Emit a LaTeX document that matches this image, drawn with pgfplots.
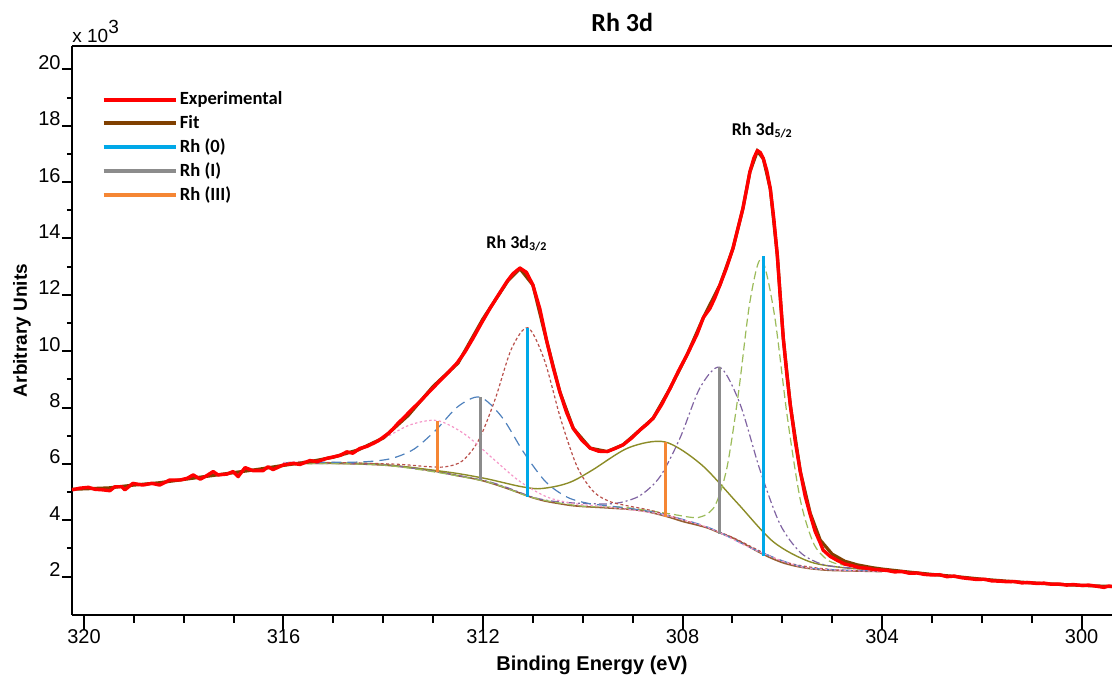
\documentclass[border=0pt]{standalone}
\usepackage{fontspec}
\setmainfont{Liberation Sans}
\newfontfamily\calfont{Carlito}
\usepackage{pgfplots}
\pgfplotsset{compat=1.18}
\usetikzlibrary{calc}
\definecolor{expred}{RGB}{255,0,0}
\definecolor{fitbrown}{RGB}{128,64,0}
\definecolor{bgbrown}{RGB}{150,95,50}
\definecolor{rhzero}{RGB}{0,168,232}
\definecolor{rhone}{RGB}{140,140,140}
\definecolor{rhthree}{RGB}{245,134,52}
\definecolor{cgreen}{RGB}{155,187,89}
\definecolor{cpurple}{RGB}{128,100,162}
\definecolor{colive}{RGB}{140,140,40}
\definecolor{cbrownred}{RGB}{185,80,75}
\definecolor{cblue}{RGB}{79,129,189}
\definecolor{cpink}{RGB}{245,150,200}
\begin{document}
\begin{tikzpicture}
\begin{axis}[
  name=ax,
  scale only axis,
  width=520pt, height=284.5pt,
  x dir=reverse,
  xmin=299.39, xmax=320.24,
  ymin=0.64, ymax=20.83,
  axis x line*=bottom, axis y line*=left,
  axis line style={-, line width=1pt, black},
  tick align=outside,
  xtick={300,304,...,320}, minor x tick num=3,
  ytick={2,4,...,20}, minor y tick num=1,
  major tick length=7.5pt, minor tick length=3.8pt,
  ytick style={/pgfplots/major tick length=5pt, /pgfplots/minor tick length=2.5pt},
  tick style={line width=1pt, black},
  /pgf/number format/assume math mode=true,
  /pgf/number format/1000 sep={},
  ticklabel style={font=\fontsize{10}{11}\selectfont},
  xticklabel style={inner ysep=1pt, yshift=1.5pt},
  yticklabel style={anchor=base east, inner xsep=0.5pt, xshift=2.5pt},
  xlabel={Binding Energy (eV)}, ylabel={Arbitrary Units},
  xlabel style={font=\bfseries\fontsize{10}{12}\selectfont, at={(axis description cs:0.5,-0.088)}, anchor=center, inner sep=0pt},
  ylabel style={font=\bfseries\fontsize{9.5}{11}\selectfont, at={(axis description cs:-0.048,0.5)}, anchor=center},
  title={Rh 3d},
  title style={at={(axis description cs:0.529,1)}, anchor=base, yshift=1pt, font=\calfont\bfseries\fontsize{13}{14}\selectfont},
  legend style={at={(axis description cs:0.028,0.922)}, anchor=north west, draw=none, fill=none,
    font=\calfont\bfseries\fontsize{9.3}{10}\selectfont, row sep=2.7pt, inner sep=0pt,
    nodes={inner xsep=1.2pt, inner ysep=0.5pt}},
  legend cell align=left,
  legend image code/.code={\draw[#1] (0pt,0pt) -- (36pt,0pt);},
]
\addlegendimage{line width=2pt, expred}
\addlegendentry{Experimental}
\addlegendimage{line width=2pt, fitbrown}
\addlegendentry{Fit}
\addlegendimage{line width=2pt, rhzero}
\addlegendentry{Rh (0)}
\addlegendimage{line width=2pt, rhone}
\addlegendentry{Rh (I)}
\addlegendimage{line width=2pt, rhthree}
\addlegendentry{Rh (III)}

% background
\addplot[bgbrown, line width=0.8pt, smooth, forget plot] coordinates {
(316.0,6.00) (315.5,6.02) (315.0,6.02) (314.5,6.00) (314.0,5.96) (313.5,5.88) (313.0,5.75)
(312.75,5.67) (312.5,5.58) (312.25,5.50) (312.0,5.40) (311.75,5.27) (311.5,5.12) (311.25,4.96)
(311.0,4.80) (310.75,4.68) (310.5,4.60) (310.25,4.53) (310.0,4.49) (309.5,4.44) (309.0,4.38)
(308.75,4.32) (308.5,4.22) (308.25,4.10) (308.0,3.96) (307.75,3.85) (307.5,3.73) (307.25,3.55)
(307.0,3.38) (306.75,3.15) (306.5,2.90) (306.25,2.68) (306.0,2.50) (305.75,2.38) (305.5,2.30)
(305.25,2.25) (305.0,2.22) (304.5,2.20) (304.0,2.18)};

% Rh(III) 3d5/2 broad (olive solid)
\addplot[colive, line width=0.7pt, smooth, forget plot] coordinates {
(316.0,6.01) (315.6,6.04) (314.15,6.00) (312.7,5.71) (311.975,5.49) (311.6,5.34) (311.25,5.20)
(310.9,5.12) (310.525,5.21) (310.2,5.39) (309.8,5.79) (309.075,6.58) (308.35,6.78) (307.625,5.98)
(306.9,4.61) (306.175,3.23) (305.45,2.53) (304.725,2.31) (304.0,2.24)};

% Rh(I) 3d5/2 (purple dash-dot)
\addplot[cpurple, line width=0.6pt, smooth, dash pattern=on 4pt off 1.5pt on 1pt off 1.5pt, forget plot] coordinates {
(316.0,6.00) (314.0,5.97) (312.0,5.42) (311.0,4.82) (310.45,4.65) (309.65,4.58) (309.25,4.63)
(308.85,4.88) (308.45,5.55) (308.05,6.92) (307.65,8.70) (307.25,9.43) (306.85,8.14) (306.45,5.80)
(306.05,3.88) (305.65,2.88) (305.25,2.47) (304.85,2.34) (304.05,2.25)};

% Rh(0) 3d5/2 (green dashed)
\addplot[cgreen, line width=0.6pt, smooth, dash pattern=on 4pt off 2pt, forget plot] coordinates {
(316.0,6.00) (314.0,5.96) (312.0,5.40) (311.0,4.80) (310.0,4.50) (309.18,4.46) (308.26,4.23)
(307.80,4.10) (307.57,4.16) (307.34,4.55) (307.11,5.86) (306.88,8.50) (306.65,11.74) (306.42,13.28)
(306.16,11.32) (305.90,7.68) (305.64,4.74) (305.38,3.21) (305.12,2.63) (304.86,2.44) (304.34,2.32) (304.0,2.26)};

% Rh(0) 3d3/2 (brown-red dotted)
\addplot[cbrownred, line width=0.6pt, smooth, dash pattern=on 1.5pt off 1.2pt, forget plot] coordinates {
(316.0,6.02) (315.06,6.05) (313.74,5.99) (313.08,5.90) (312.75,5.90) (312.42,6.10) (312.09,6.83)
(311.76,8.28) (311.43,10.08) (311.1,10.83) (310.77,9.69) (310.44,7.58) (310.11,5.89) (309.78,5.01)
(309.45,4.66) (309.12,4.52) (308.46,4.27) (307.14,3.50) (306.0,2.55) (305.0,2.25) (304.0,2.2)};

% Rh(I) 3d3/2 (blue dashed)
\addplot[cblue, line width=0.6pt, smooth, dash pattern=on 5pt off 3pt, forget plot] coordinates {
(316.0,6.04) (315.58,6.06) (314.7,6.06) (314.26,6.09) (313.82,6.20) (313.38,6.53) (312.94,7.21)
(312.5,8.04) (312.06,8.37) (311.62,7.66) (311.18,6.40) (310.74,5.36) (310.3,4.81) (309.86,4.59)
(309.42,4.50) (308.54,4.27) (307.5,3.76) (306.5,2.92) (305.5,2.32) (304.0,2.2)};

% Rh(III) 3d3/2 (pink dotted)
\addplot[cpink, line width=0.6pt, smooth, dash pattern=on 1.2pt off 1.2pt, forget plot] coordinates {
(316.0,6.05) (315.67,6.09) (315.12,6.18) (314.57,6.42) (314.02,6.87) (313.47,7.38) (312.92,7.54)
(312.37,7.06) (311.82,6.22) (311.27,5.39) (310.72,4.83) (310.17,4.59) (309.62,4.49) (308.52,4.24)
(307.5,3.75) (306.5,2.91) (305.5,2.31) (304.0,2.19)};

% vertical position lines
\addplot[rhzero, line width=1.5pt, forget plot] coordinates {(306.38,2.75) (306.38,13.37)};
\addplot[rhzero, line width=1.5pt, forget plot] coordinates {(311.1,4.83) (311.1,10.84)};
\addplot[rhone, line width=1.5pt, forget plot] coordinates {(307.25,3.53) (307.25,9.43)};
\addplot[rhone, line width=1.5pt, forget plot] coordinates {(312.06,5.42) (312.06,8.37)};
\addplot[rhthree, line width=1.5pt, forget plot] coordinates {(308.35,4.12) (308.35,6.78)};
\addplot[rhthree, line width=1.5pt, forget plot] coordinates {(312.92,5.72) (312.92,7.54)};

% Fit
\addplot[fitbrown, line width=1.6pt, forget plot] coordinates {
(320.24,5.10) (319.5,5.15) (319.0,5.25) (318.5,5.33) (318.0,5.45) (317.5,5.57) (317.0,5.69)
(316.5,5.81) (316.0,5.95) (315.5,6.07) (315.0,6.24) (314.5,6.50) (314.0,6.92) (313.5,7.72)
(313.0,8.75) (312.5,9.58) (312.0,11.15) (311.5,12.5) (311.26,12.93) (311.0,12.35) (310.72,10.34)
(310.46,8.56) (310.19,7.26) (309.85,6.56) (309.51,6.44) (309.19,6.68) (308.85,7.21) (308.59,7.62)
(308.25,8.68) (307.91,9.87) (307.58,11.2) (307.25,12.35) (306.99,13.64) (306.79,15.06) (306.65,16.36)
(306.5,17.1) (306.38,16.83) (306.24,15.76) (306.1,13.41) (305.98,10.46) (305.84,8.1) (305.64,5.74)
(305.44,4.25) (305.24,3.3) (305.0,2.8) (304.75,2.55) (304.5,2.42) (304.2,2.32) (304.0,2.27)
(303.5,2.17) (303.0,2.08) (302.5,2.0) (302.0,1.91) (301.5,1.84) (301.0,1.78) (300.5,1.73)
(300.0,1.69) (299.39,1.65)};

% Experimental
\addplot[expred, line width=1.7pt, line join=round, forget plot] coordinates {
(320.24,5.08) (320.08,5.14) (319.91,5.17) (319.78,5.10) (319.62,5.08) (319.48,5.05) (319.38,5.19)
(319.24,5.19) (319.18,5.08) (319.02,5.31) (318.82,5.25) (318.64,5.31) (318.48,5.25) (318.28,5.43)
(318.07,5.43) (317.93,5.49) (317.81,5.61) (317.67,5.46) (317.57,5.55) (317.41,5.73) (317.31,5.61)
(317.13,5.64) (317.01,5.73) (316.91,5.55) (316.77,5.87) (316.61,5.76) (316.41,5.76) (316.31,5.90)
(316.21,5.80) (316.01,5.96) (315.81,6.02) (315.67,5.98) (315.47,6.12) (315.33,6.08) (315.13,6.20)
(314.87,6.30) (314.73,6.43) (314.61,6.38) (314.47,6.55) (314.33,6.62) (314.2,6.73) (314.1,6.82)
(314.0,6.95) (313.9,7.08) (313.8,7.25) (313.7,7.45) (313.6,7.62) (313.5,7.80) (313.4,7.98)
(313.3,8.15) (313.2,8.33) (313.1,8.52) (313.0,8.70) (312.86,8.96) (312.7,9.24) (312.52,9.58)
(312.36,9.98) (312.2,10.46) (312.03,11.0) (311.86,11.52) (311.69,12.0) (311.52,12.47) (311.4,12.75)
(311.26,12.95) (311.13,12.8) (311.0,12.35) (310.86,11.5) (310.72,10.34) (310.59,9.4) (310.46,8.56)
(310.33,7.85) (310.19,7.26) (310.02,6.85) (309.85,6.56) (309.68,6.45) (309.51,6.44) (309.35,6.55)
(309.19,6.68) (309.02,6.92) (308.85,7.21) (308.72,7.4) (308.59,7.62) (308.42,8.1) (308.25,8.68)
(308.08,9.3) (307.91,9.87) (307.71,10.6) (307.58,11.2) (307.45,11.52) (307.35,11.9) (307.25,12.35)
(307.12,12.95) (306.99,13.64) (306.89,14.35) (306.79,15.06) (306.72,15.7) (306.65,16.36) (306.57,16.85)
(306.5,17.12) (306.44,17.05) (306.38,16.83) (306.31,16.4) (306.24,15.76) (306.17,14.7) (306.1,13.41)
(306.04,11.9) (305.98,10.46) (305.91,9.2) (305.84,8.1) (305.74,6.8) (305.64,5.74) (305.54,4.85)
(305.44,4.2) (305.34,3.6) (305.24,3.2) (305.18,2.94) (305.04,2.72) (304.9,2.58) (304.75,2.45)
(304.58,2.38) (304.45,2.32) (304.3,2.30) (304.15,2.25) (304.04,2.24) (303.9,2.22) (303.75,2.17)
(303.6,2.18) (303.45,2.12) (303.3,2.13) (303.15,2.08) (303.0,2.06) (302.85,2.07) (302.7,2.00)
(302.55,2.02) (302.4,1.96) (302.25,1.93) (302.1,1.90) (301.95,1.91) (301.8,1.85) (301.63,1.84)
(301.5,1.82) (301.35,1.83) (301.2,1.78) (301.05,1.79) (300.9,1.76) (300.75,1.77) (300.6,1.73)
(300.45,1.74) (300.3,1.70) (300.17,1.72) (300.0,1.69) (299.85,1.70) (299.7,1.66) (299.55,1.62)
(299.45,1.67) (299.39,1.65)};

\node[font=\calfont\bfseries\fontsize{9}{10}\selectfont, anchor=base] at (axis cs:306.4,17.67) {Rh 3d\textsubscript{5/2}};
\node[font=\calfont\bfseries\fontsize{9}{10}\selectfont, anchor=base] at (axis cs:311.32,13.66) {Rh 3d\textsubscript{3/2}};
\end{axis}
\draw[line width=1pt] (ax.north west) -- (ax.north east);
\node[anchor=base west, inner sep=0pt, font=\fontsize{9.5}{10}\selectfont] at ($(ax.north west)+(0,1.5pt)$) {x 10\raisebox{0.5em}{3}};
\pgfresetboundingbox
\path[use as bounding box] ($(ax.south west)+(-36pt,-31pt)$) rectangle ($(ax.north east)+(0pt,23pt)$);
\end{tikzpicture}
\end{document}
